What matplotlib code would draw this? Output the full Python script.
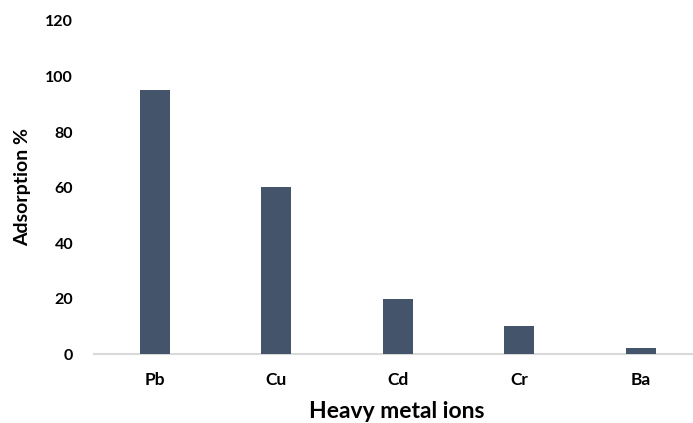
import matplotlib
matplotlib.use("Agg")
import matplotlib.pyplot as plt

categories = ["Pb", "Cu", "Cd", "Cr", "Ba"]
adsorption = [95, 60, 20, 10, 2]
yticks = [0, 20, 40, 60, 80, 100, 120]

plt.rcParams['font.family'] = ['Lato', 'DejaVu Sans']

fig = plt.figure(figsize=(6.93, 4.23), dpi=100)
ax = fig.add_axes([94/693, 1 - 354/423, 1 - 94/693, 333/423])

x = list(range(len(categories)))
ax.bar(x, adsorption, width=0.25, color="#44546A", zorder=3)

ax.set_xlim(-0.5, (693 - 94) / 121.5 - 0.5)
ax.set_ylim(0, 120)
ax.set_yticks(yticks)
ax.set_yticklabels([str(v) for v in yticks], fontsize=11.5, fontweight="bold")
ax.set_xticks(x)
ax.set_xticklabels(categories, fontsize=12.5, fontweight="bold")

for s in ["top", "right", "left"]:
    ax.spines[s].set_visible(False)
ax.spines["bottom"].set_color("#D9D9D9")
ax.spines["bottom"].set_linewidth(1.5)
ax.tick_params(axis="both", length=0)
ax.tick_params(axis="y", pad=15)
ax.tick_params(axis="x", pad=13)

ax.set_ylabel("Adsorption %", fontsize=14, fontweight="bold", va="center")
ax.yaxis.set_label_coords((23 - 94) / 599, 0.5)
ax.set_xlabel("Heavy metal ions", fontsize=16.5, fontweight="bold", va="center")
ax.xaxis.set_label_coords((397 - 94) / 599, -(411 - 354) / 333)

fig.savefig("out.png", dpi=100)
